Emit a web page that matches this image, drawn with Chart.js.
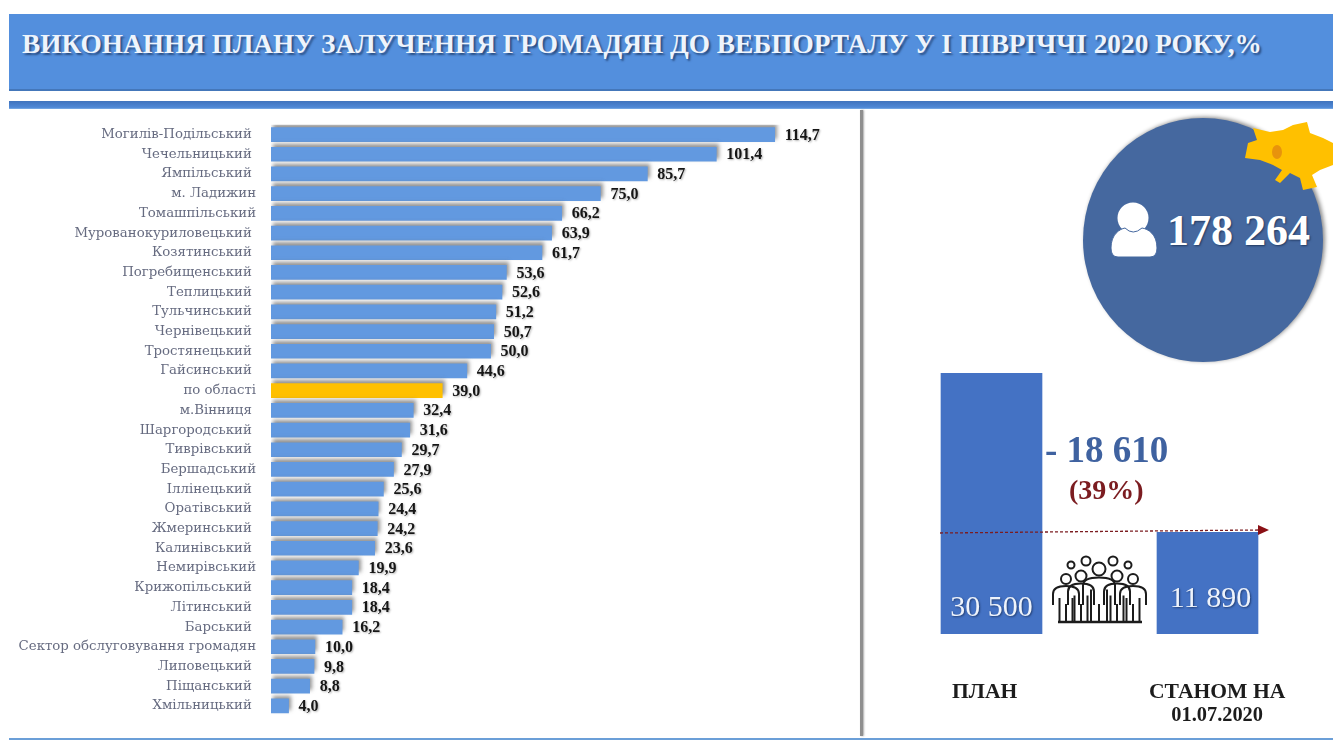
<!DOCTYPE html>
<html lang="uk">
<head>
<meta charset="utf-8">
<title>Виконання плану</title>
<script src="https://cdn.jsdelivr.net/npm/chart.js@4"></script>
<style>
    html, body { margin: 0; padding: 0; background: #fff; overflow: hidden; }
    body { width: 1333px; height: 740px; position: relative; font-family: "Liberation Serif", serif; }
    .abs { position: absolute; white-space: nowrap; }
    canvas { position: absolute; }
    #header { left: 9px; top: 14px; width: 1324px; height: 75px; background: #538fdd; border-bottom: 2px solid #4477ba; }
    #title { left: 22px; top: 29px; color: #eef4fc; font-size: 27.3px; font-weight: bold; text-shadow: 2px 2px 2px #2a4f85; }
    #band { left: 9px; top: 101px; width: 1324px; height: 8px; background: linear-gradient(#3f73bd, #4f88d6 80%, #7fb0e6); }
    #divider { left: 860px; top: 110px; width: 3px; height: 626px; background: #8f8f8f; box-shadow: 1px 0 2px #aaa; }
    #bottomLine { left: 9px; top: 738px; width: 1324px; height: 2px; background: #6b9fd8; }
    #circle { left: 1083px; top: 118px; width: 240px; height: 244px; border-radius: 50%; background: #45689f; box-shadow: 2px -1px 4px #888; }
    #total { left: 1167px; top: 205px; color: #fff; font-size: 44px; font-weight: bold; text-shadow: 1px 1px 2px #233a60; }
    #diff { left: 1045px; top: 428px; color: #3f62a0; font-size: 37px; font-weight: bold; }
    #pct { left: 1069px; top: 474px; color: #7b1c20; font-size: 28px; font-weight: bold; }
    .caption { color: #1c1c1c; font-size: 21.6px; font-weight: bold; text-align: center; line-height: 23px; }
    .caption span { font-size: 20.4px; }
</style>
</head>
<body>
<div class="abs" id="header"></div>
<div class="abs" id="title">ВИКОНАННЯ ПЛАНУ ЗАЛУЧЕННЯ ГРОМАДЯН ДО ВЕБПОРТАЛУ У І ПІВРІЧЧІ 2020 РОКУ,%</div>
<div class="abs" id="band"></div>
<div class="abs" id="divider"></div>
<div class="abs" id="bottomLine"></div>

<canvas id="districtChart" width="860" height="740" style="left:0;top:0;width:860px;height:740px"></canvas>

<div class="abs" id="circle"></div>
<div class="abs" id="total">178 264</div>

<!-- map and person icon -->
<svg class="abs" style="left:0;top:0" width="1333" height="740">
    <polygon fill="#ffc000" points="1253,128 1270,132 1283,130 1293,125 1307,122 1310,133 1323,138 1333,143 1333,165 1320,170 1312,175 1317,187 1303,190 1300,178 1290,173 1280,183 1275,180 1282,170 1273,165 1260,160 1245,158 1248,143 1257,140"/>
    <ellipse cx="1277" cy="152" rx="5" ry="7" fill="#e8930c"/>
    <circle cx="1133" cy="218" r="15.5" fill="#fff"/>
    <path d="M1111 248 C1111 234 1120 229 1125 228 Q1133 236 1142 228 C1148 229 1157 234 1157 248 Q1157 257 1150 257 L1118 257 Q1111 257 1111 248 Z" fill="#fff" stroke="#45689f" stroke-width="1"/>
</svg>

<canvas id="planChart" width="453" height="290" style="left:880px;top:360px;width:453px;height:290px"></canvas>

<!-- arrow and crowd icon -->
<svg class="abs" style="left:0;top:0" width="1333" height="740">
    <line x1="940" y1="533" x2="1258" y2="530" stroke="#7b1c20" stroke-width="1.3" stroke-dasharray="3 2"/>
    <polygon points="1258,525 1269,530 1258,535" fill="#8a1015"/>
    <g id="crowd" fill="none" stroke="#1c1c1c" stroke-width="2"></g>
    <line x1="1058" y1="622" x2="1142" y2="622" stroke="#1c1c1c" stroke-width="2.5"/>
</svg>

<div class="abs" id="diff">- 18 610</div>
<div class="abs" id="pct">(39%)</div>
<div class="abs caption" style="left:952px;top:680px">ПЛАН</div>
<div class="abs caption" style="left:1149px;top:680px">СТАНОМ НА<br><span>01.07.2020</span></div>

<script>
// Districts, top to bottom
const districts = [
    'Могилів-Подільський ', 'Чечельницький ', 'Ямпільський ', 'м. Ладижин', 'Томашпільський',
    'Мурованокуриловецький ', 'Козятинський ', 'Погребищенський ', 'Теплицький ', 'Тульчинський ',
    'Чернівецький ', 'Тростянецький ', 'Гайсинський ', 'по області', 'м.Вінниця ',
    'Шаргородський ', 'Тиврівський ', 'Бершадський', 'Іллінецький ', 'Оратівський ',
    'Жмеринський ', 'Калинівський ', 'Немирівський', 'Крижопільський ', 'Літинський ',
    'Барський ', 'Сектор обслуговування громадян', 'Липовецький ', 'Піщанський ', 'Хмільницький '
];
const planPercent = [
    114.7, 101.4, 85.7, 75.0, 66.2,
    63.9, 61.7, 53.6, 52.6, 51.2,
    50.7, 50.0, 44.6, 39.0, 32.4,
    31.6, 29.7, 27.9, 25.6, 24.4,
    24.2, 23.6, 19.9, 18.4, 18.4,
    16.2, 10.0, 9.8, 8.8, 4.0
];
const regionRow = 'по області';

const planLabels = ['ПЛАН', 'СТАНОМ НА 01.07.2020'];
const planValues = [30500, 11890];

const serif = '"Liberation Serif", serif';

// Grey shadow behind the bars, and the value next to each bar
const barDecor = {
    id: 'barDecor',
    beforeDatasetsDraw(chart) {
        const ctx = chart.ctx;
        ctx.save();
        ctx.shadowColor = 'rgba(100, 100, 100, 0.7)';
        ctx.shadowBlur = 4;
        ctx.shadowOffsetX = 2;
        ctx.shadowOffsetY = -3;
    },
    afterDatasetsDraw(chart) {
        const ctx = chart.ctx;
        ctx.restore();
        ctx.save();
        ctx.font = 'bold 16px ' + serif;
        ctx.fillStyle = '#161616';
        ctx.textAlign = 'left';
        ctx.textBaseline = 'middle';
        ctx.shadowColor = 'rgba(0, 0, 0, 0.3)';
        ctx.shadowBlur = 2;
        ctx.shadowOffsetX = 1;
        ctx.shadowOffsetY = 1;
        chart.getDatasetMeta(0).data.forEach(function (bar, i) {
            const text = planPercent[i].toFixed(1).replace('.', ',');
            ctx.fillText(text, bar.x + 10, bar.y + 1);
        });
        ctx.restore();
    }
};

new Chart(document.getElementById('districtChart'), {
    type: 'bar',
    data: {
        labels: districts,
        datasets: [{
            data: planPercent,
            backgroundColor: districts.map(d => d === regionRow ? '#ffc000' : '#6299e0'),
            barThickness: 14,
            borderWidth: 0
        }]
    },
    options: {
        indexAxis: 'y',
        responsive: false,
        animation: false,
        layout: { padding: { top: 124.7, bottom: 24.3, right: 62 } },
        scales: {
            x: { display: false, min: 0, max: 120 },
            y: {
                afterFit(scale) { scale.width = 271; },
                grid: { display: false },
                border: { display: false },
                ticks: {
                    autoSkip: false,
                    padding: 7,
                    color: '#666b80',
                    font: { family: '"DejaVu Serif", serif', size: 13.3 }
                }
            }
        },
        plugins: { legend: { display: false }, tooltip: { enabled: false } }
    },
    plugins: [barDecor]
});

// Value inside the plan bars, close to the bottom
const planInside = {
    id: 'planInside',
    afterDatasetsDraw(chart) {
        const ctx = chart.ctx;
        const lift = [26, 35];
        const shift = [0, 3];
        ctx.save();
        ctx.font = '30px ' + serif;
        ctx.fillStyle = '#eef3fb';
        ctx.textAlign = 'center';
        ctx.textBaseline = 'middle';
        ctx.shadowColor = 'rgba(20, 40, 80, 0.7)';
        ctx.shadowBlur = 2;
        ctx.shadowOffsetX = 1;
        ctx.shadowOffsetY = 1;
        chart.getDatasetMeta(0).data.forEach(function (bar, i) {
            const text = String(planValues[i]).replace(/\B(?=(\d{3})+$)/g, ' ');
            ctx.fillText(text, bar.x + shift[i], bar.base - lift[i]);
        });
        ctx.restore();
    }
};

new Chart(document.getElementById('planChart'), {
    type: 'bar',
    data: {
        labels: planLabels,
        datasets: [{
            data: planValues,
            backgroundColor: '#4472c4',
            barThickness: 101,
            borderWidth: 0
        }]
    },
    options: {
        responsive: false,
        animation: false,
        layout: { padding: { left: 3.5, right: 17.5, top: 13, bottom: 16 } },
        scales: {
            x: { display: false },
            y: { display: false, min: 0, max: 30500 }
        },
        plugins: { legend: { display: false }, tooltip: { enabled: false } }
    },
    plugins: [planInside]
});

// Crowd icon: rear heads, then shoulders and legs of the front figures
const crowd = document.getElementById('crowd');
function addShape(tag, attrs) {
    const el = document.createElementNS('http://www.w3.org/2000/svg', tag);
    for (const k in attrs) el.setAttribute(k, attrs[k]);
    crowd.appendChild(el);
}
[[1071, 565, 3.5], [1086, 561, 4.5], [1113, 561, 4.5], [1128, 565, 3.5]].forEach(function (h) {
    addShape('circle', { cx: h[0], cy: h[1], r: h[2] });
});
[[1066, 579, 5, 13], [1081, 576, 5.5, 13], [1099, 569, 6.5, 16], [1117, 576, 5.5, 13], [1133, 579, 5, 13]].forEach(function (f) {
    const x = f[0], y = f[1], r = f[2], w = f[3];
    addShape('circle', { cx: x, cy: y, r: r });
    addShape('path', {
        d: 'M' + (x - w) + ' 605 L' + (x - w) + ' ' + (y + r + 10) + ' Q' + (x - w) + ' ' + (y + r + 2) + ' ' + x + ' ' + (y + r + 2) +
           ' Q' + (x + w) + ' ' + (y + r + 2) + ' ' + (x + w) + ' ' + (y + r + 10) + ' L' + (x + w) + ' 605'
    });
    addShape('path', { d: 'M' + (x - w / 2) + ' 622 L' + (x - w / 2) + ' ' + (y + r + 14) + ' M' + (x + w / 2) + ' 622 L' + (x + w / 2) + ' ' + (y + r + 14) + ' M' + x + ' 622 L' + x + ' 604' });
});
</script>
</body>
</html>
